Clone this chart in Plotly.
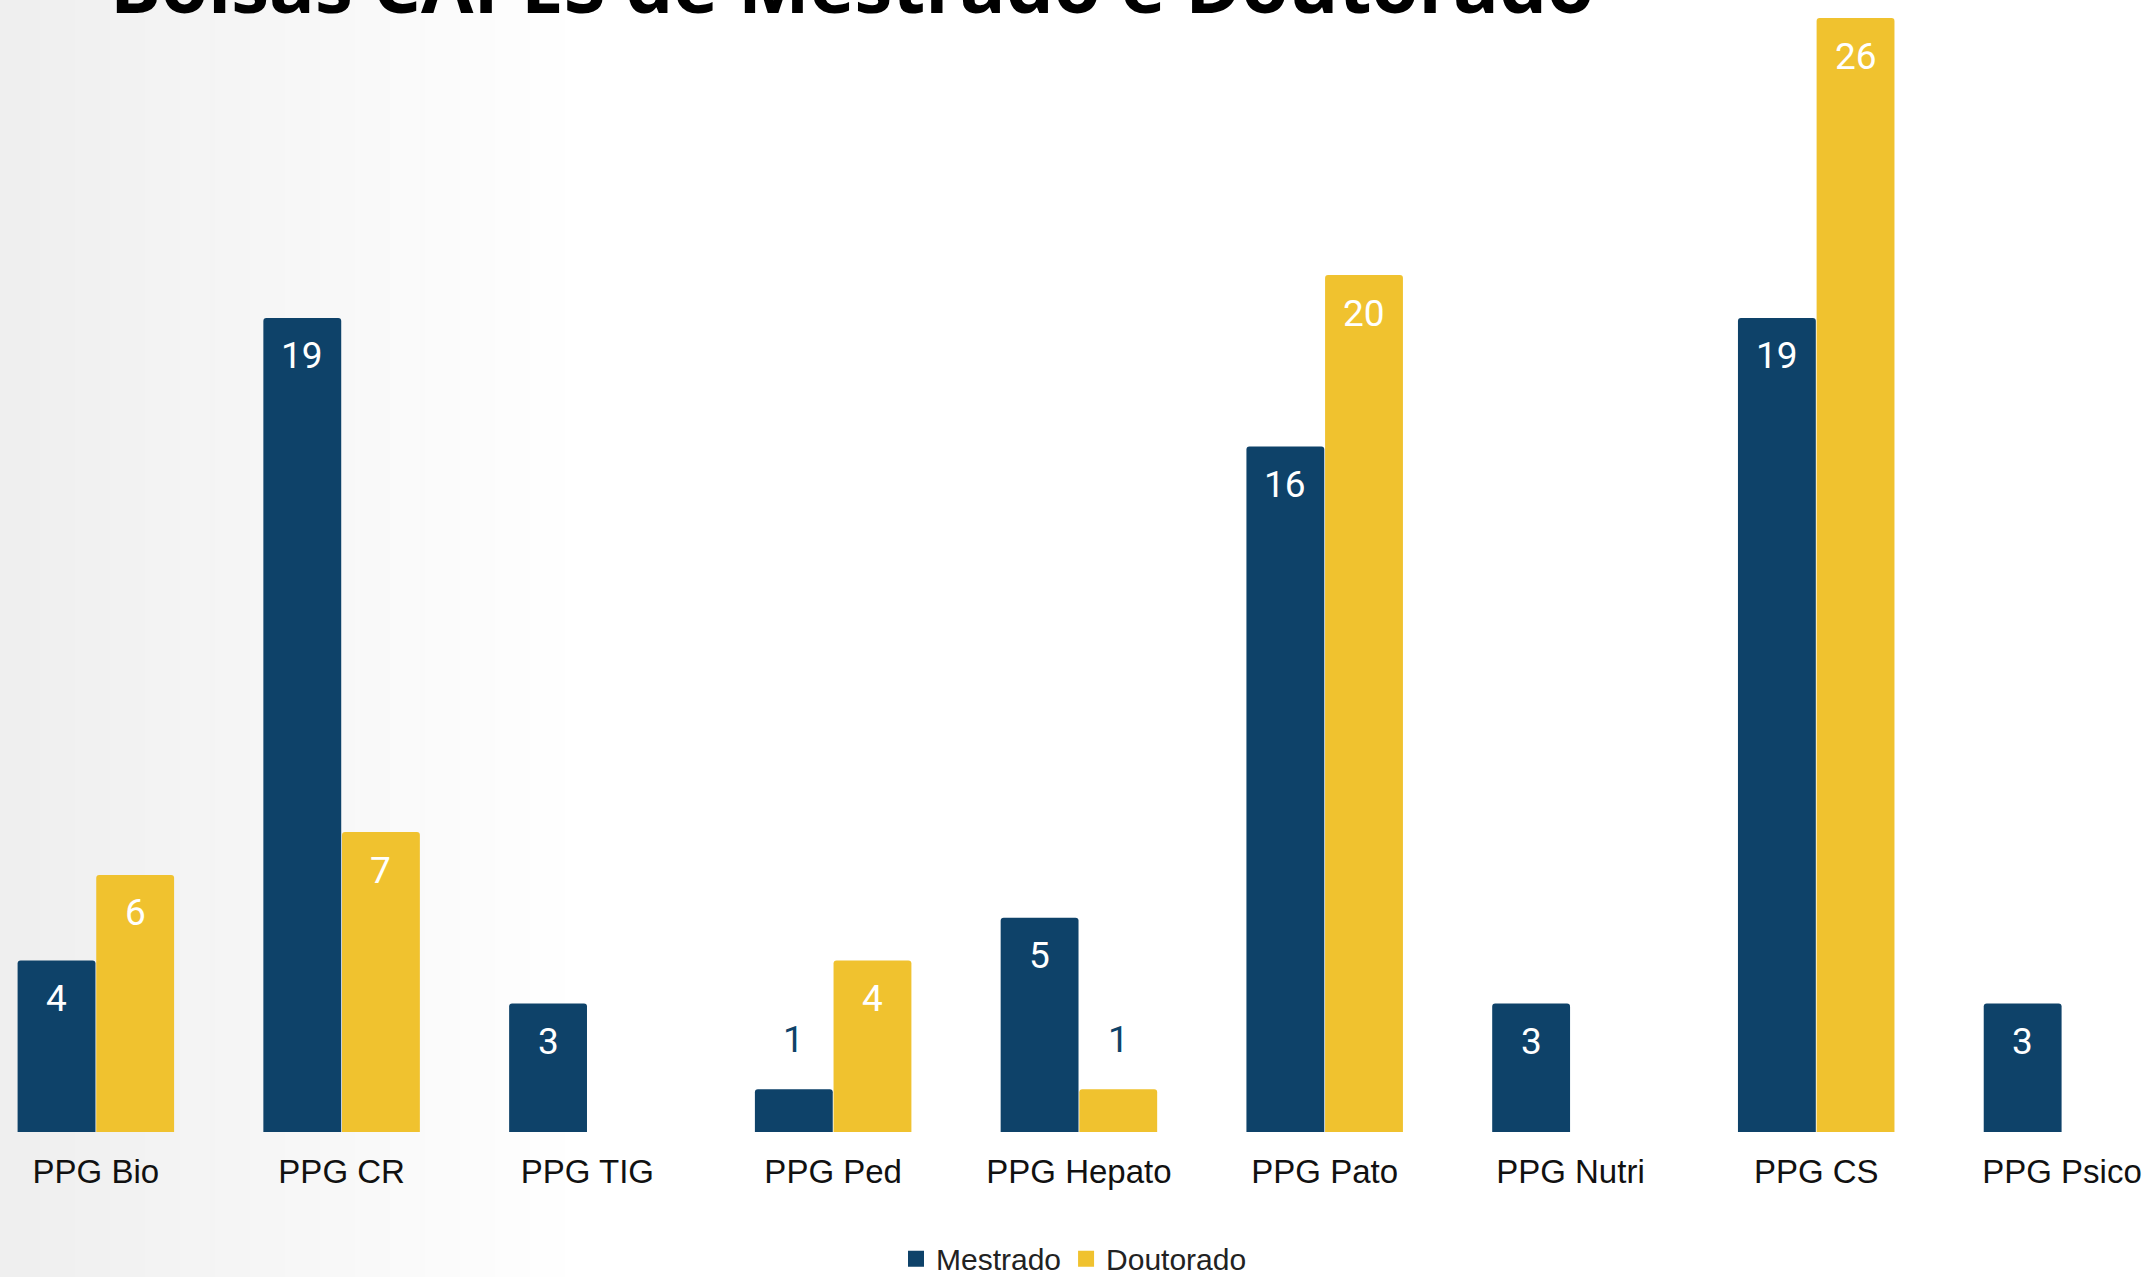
import plotly.graph_objects as go

categories = ["PPG Bio", "PPG CR", "PPG TIG", "PPG Ped", "PPG Hepato",
              "PPG Pato", "PPG Nutri", "PPG CS", "PPG Psico"]
mestrado = [4, 19, 3, 1, 5, 16, 3, 19, 3]
doutorado = [6, 7, None, 4, 1, 20, None, 26, None]
title_text = "Bolsas CAPES de Mestrado e Doutorado"

BLUE = "#0E4269"
YELLOW = "#F0C22F"
BAR_HALF = 39.3      # pixel offset of each bar from its category centre
INSIDE_SHIFT = -38   # label offset inside the bar (px)
OUTSIDE_SHIFT = 50   # label offset above short bars (px)

fig = go.Figure()
series = [("Mestrado", mestrado, BLUE, -1), ("Doutorado", doutorado, YELLOW, 1)]
annotations = []
for name, vals, color, side in series:
    fig.add_trace(go.Bar(
        name=name, x=categories, y=vals,
        marker=dict(color=color, line=dict(width=0), cornerradius=3),
        showlegend=False, hoverinfo="x+y",
    ))
    # legend entry with a larger square symbol
    fig.add_trace(go.Scatter(
        name=name, x=[None], y=[None], mode="markers",
        marker=dict(symbol="square", size=22, color=color),
        showlegend=True, hoverinfo="skip",
    ))
    for cat, v in zip(categories, vals):
        if v is None:
            continue
        inside = v > 1
        annotations.append(dict(
            x=cat, y=v, xref="x", yref="y", text=str(v), showarrow=False,
            xshift=side * BAR_HALF,
            yshift=INSIDE_SHIFT if inside else OUTSIDE_SHIFT,
            yanchor="middle", xanchor="center",
            font=dict(family="Roboto", size=37,
                      color="white" if inside else BLUE),
        ))

# soft grey gradient on the left side of the background
shapes = []
n = 16
for i in range(n):
    w = 40 + i * 35
    shapes.append(dict(type="rect", xref="paper", yref="paper",
                       x0=0, x1=w / 2148, y0=-0.2, y1=1.05,
                       fillcolor="rgba(110,120,120,0.0045)", line=dict(width=0),
                       layer="below"))

annotations.append(dict(text="<b>" + title_text + "</b>", xref="paper", yref="paper",
                        x=108 / 2148, xanchor="left", y=1.015, yanchor="middle",
                        showarrow=False,
                        font=dict(family="Open Sans", size=76, color="#000000", weight=800)))

fig.update_layout(
    width=2148, height=1277,
    margin=dict(l=0, r=0, t=0, b=145, autoexpand=False),
    paper_bgcolor="white", plot_bgcolor="rgba(0,0,0,0)",
    barmode="group", bargap=0.36, bargroupgap=0.01,
    font=dict(family="Liberation Sans, Arial", color="#111111"),
    xaxis=dict(range=[-0.39, 8.35], showgrid=False, zeroline=False, showline=False,
               ticks="outside", ticklen=10, tickcolor="rgba(0,0,0,0)",
               tickfont=dict(family="Liberation Sans, Arial", size=33, color="#111111")),
    yaxis=dict(range=[0, 26.42], visible=False, showgrid=False, zeroline=False),
    showlegend=True,
    legend=dict(orientation="h", x=0.5, xanchor="center", y=-0.112, yanchor="middle",
                font=dict(family="Liberation Sans, Arial", size=30, color="#222222"),
                traceorder="normal", bgcolor="rgba(0,0,0,0)", itemwidth=30),
    shapes=shapes,
    annotations=annotations,
)

fig.write_html("out.html", config={"displayModeBar": False},
               post_script="document.body.style.margin='0';")
